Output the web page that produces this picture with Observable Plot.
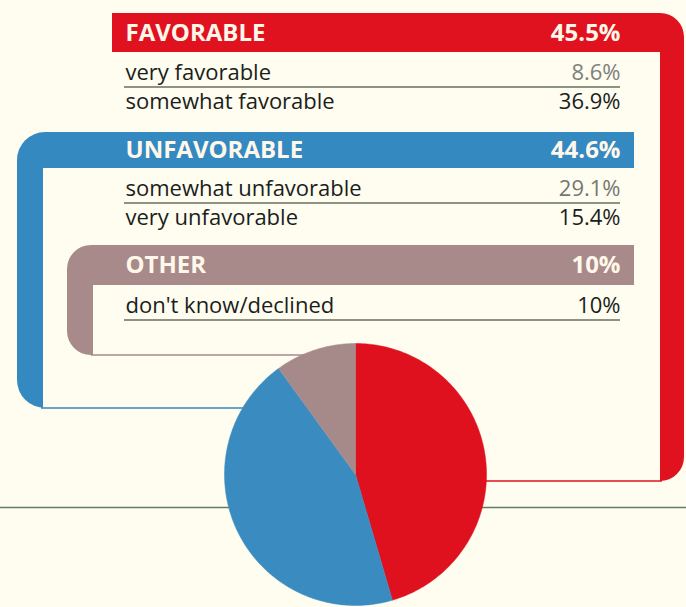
<!DOCTYPE html>
<html>
<head>
<meta charset="utf-8">
<script src="https://cdn.jsdelivr.net/npm/d3@7"></script>
<script src="https://cdn.jsdelivr.net/npm/@observablehq/plot@0.6"></script>
<style>
  html, body { margin: 0; padding: 0; background: #fffcf0; }
  #chart { width: 686px; height: 607px; overflow: hidden; }
</style>
</head>
<body>
<div id="chart"></div>
<script>
// ---------- DATA ----------
const groups = ["FAVORABLE", "UNFAVORABLE", "OTHER"];
const groupTotals = [45.5, 44.6, 10];
const rowLabels = ["very favorable", "somewhat favorable", "somewhat unfavorable", "very unfavorable", "don't know/declined"];
const rowValues = [8.6, 36.9, 29.1, 15.4, 10];
const rowGroups = [0, 0, 1, 1, 2];

// ---------- LAYOUT / STYLE ----------
const W = 686, H = 607;
const bg = "#fffcf0";
const groupColors = ["#e0121f", "#3589c1", "#a98a8b"];
const pieColors = ["#df111e", "#3a8cc0", "#a68a8a"];
const frames = [
  {x1: 112, x2: 684, y1: 13, y2: 481, head: 39, side: "right", strip: 24, r: 24},
  {x1: 17, x2: 634, y1: 132, y2: 408, head: 36, side: "left", strip: 26, r: 28},
  {x1: 67, x2: 634, y1: 245, y2: 355, head: 40, side: "left", strip: 26, r: 24}
];
const valueTones = ["#7d817b", "#1a1e1b", "#747872", "#1a1e1b", "#1a1e1b"];
const textLeft = 125, textRight = 620;
const rowStart = 27, rowStep = 29;
const pie = {cx: 355, cy: 474, r: 131};
const baseRuleY = 507;

// ---------- BUILD ----------
const marks = [];
marks.push(Plot.ruleY([baseRuleY], {x1: 0, x2: W, stroke: "#5f7d66", strokeWidth: 1.6}));

frames.forEach((f, g) => {
  const c = groupColors[g];
  marks.push(Plot.rect([f], {x1: "x1", x2: "x2", y1: "y1", y2: "y2", fill: c, rx: f.r}));
  const patch = f.side === "right"
    ? {x1: f.x1, x2: f.x1 + 60, y1: f.y1, y2: f.y1 + f.head}
    : {x1: f.x2 - 60, x2: f.x2, y1: f.y1, y2: f.y1 + f.head};
  marks.push(Plot.rect([patch], {x1: "x1", x2: "x2", y1: "y1", y2: "y2", fill: c}));
  const inner = f.side === "right"
    ? {x1: f.x1 - 1, x2: f.x2 - f.strip, y1: f.y1 + f.head, y2: f.y2 + 3}
    : {x1: f.x1 + f.strip, x2: f.x2 + 1, y1: f.y1 + f.head, y2: f.y2 + 3};
  marks.push(Plot.rect([inner], {x1: "x1", x2: "x2", y1: "y1", y2: "y2", fill: bg}));
  const line = f.side === "right"
    ? {x1: pie.cx, x2: f.x2 - f.strip + 2, y: f.y2 - 0.5}
    : {x1: f.x1 + f.strip - 2, x2: pie.cx, y: f.y2 - 0.5};
  marks.push(Plot.ruleY([line], {y: "y", x1: "x1", x2: "x2", stroke: c, strokeWidth: 1.6}));
});

// header texts
const headers = groups.map((name, g) => ({
  name, total: groupTotals[g] + "%",
  y: frames[g].y1 + frames[g].head / 2
}));
marks.push(Plot.text(headers, {x: textLeft, y: "y", text: "name", textAnchor: "start", fill: "#fff8ea",
  fontSize: 24, fontWeight: 700, fontFamily: "Open Sans"}));
marks.push(Plot.text(headers, {x: textRight, y: "y", text: "total", textAnchor: "end", fill: "#fff8ea",
  fontSize: 24, fontWeight: 700, fontFamily: "Open Sans"}));

// rows
const idxInGroup = {};
const rows = rowLabels.map((label, i) => {
  const g = rowGroups[i];
  const k = idxInGroup[g] = (idxInGroup[g] ?? -1) + 1;
  const f = frames[g];
  const baseline = f.y1 + f.head + rowStart + k * rowStep;
  return {label, value: rowValues[i] + "%", baseline, y: baseline - 0.32 * 22, first: k === 0, tone: valueTones[i]};
});
marks.push(Plot.ruleY(rows.filter(d => d.first), {y: d => d.baseline + 7.5, x1: textLeft - 1, x2: textRight, stroke: "#66705f", strokeWidth: 1.4}));
marks.push(Plot.text(rows, {x: textLeft, y: "y", text: "label", textAnchor: "start", fill: "#1a1e1b",
  fontSize: 22, fontWeight: 500, fontFamily: "Open Sans"}));
rows.forEach(r => {
  marks.push(Plot.text([r], {x: textRight, y: "y", text: "value", textAnchor: "end", fill: r.tone,
    fontSize: 22, fontWeight: 500, fontFamily: "Open Sans"}));
});

// pie (clockwise from 12 o'clock)
const total = d3.sum(groupTotals);
let acc = 0;
groupTotals.forEach((v, g) => {
  const a0 = acc / total * 2 * Math.PI;
  acc += v;
  const a1 = acc / total * 2 * Math.PI;
  const n = Math.max(2, Math.ceil((a1 - a0) / (Math.PI / 180)));
  const pts = [{x: pie.cx, y: pie.cy}];
  for (let i = 0; i <= n; i++) {
    const a = a0 + (a1 - a0) * i / n;
    pts.push({x: pie.cx + pie.r * Math.sin(a), y: pie.cy - pie.r * Math.cos(a)});
  }
  pts.push({x: pie.cx, y: pie.cy});
  marks.push(Plot.line(pts, {x: "x", y: "y", fill: pieColors[g], stroke: pieColors[g], strokeWidth: 0.5}));
});

const chart = Plot.plot({
  width: W, height: H, margin: 0,
  x: {domain: [0, W], range: [0, W], axis: null},
  y: {domain: [0, H], range: [0, H], axis: null},
  style: {background: bg, fontFamily: "Open Sans", overflow: "hidden"},
  marks
});
document.getElementById("chart").appendChild(chart);
</script>
</body>
</html>
